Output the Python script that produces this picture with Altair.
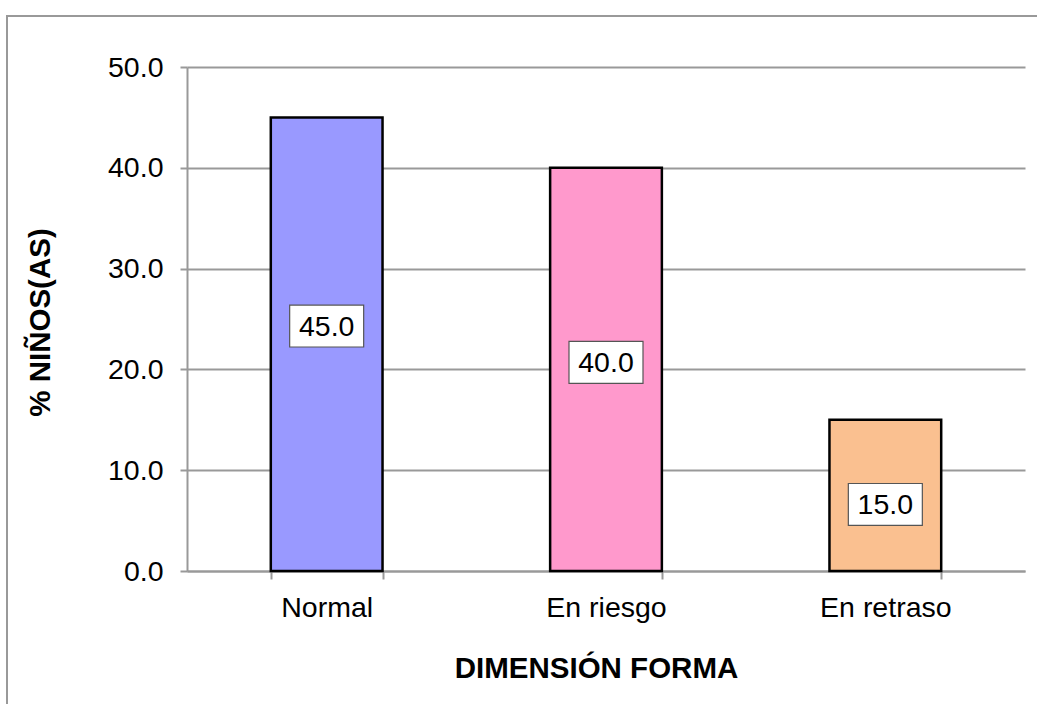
import altair as alt
import pandas as pd

# Categories, percentages and bar colours
categories = ["Normal", "En riesgo", "En retraso"]
percentages = [45.0, 40.0, 15.0]
bar_colors = ["#9999FF", "#FF99CC", "#FAC090"]
# vertical centre of each value box, in axis units
label_centers = [24.3, 20.7, 6.6]

df = pd.DataFrame({
    "cat": categories,
    "pct": percentages,
    "lab": label_centers,
})

FONT = "Liberation Sans"
FS = 28.5
TS = 29.5
W, H = 838, 504

x_enc = alt.X(
    "cat:N",
    sort=categories,
    scale=alt.Scale(paddingInner=0.6, paddingOuter=0.3),
    axis=alt.Axis(
        title="DIMENSIÓN FORMA",
        titleFont=FONT, titleFontSize=TS, titleFontWeight="bold", titleColor="black",
        titlePadding=33, titleX=409, titleAlign="center",
        labelFont=FONT, labelFontSize=FS, labelColor="black", labelPadding=14,
        labelAngle=0,
        domainColor="#999999", domainWidth=2,
        tickColor="#999999", tickWidth=2, tickSize=8, tickBand="extent",
        grid=False,
    ),
)

y_scale = alt.Scale(domain=[0, 50], nice=False)

bars = alt.Chart(df).mark_bar(stroke="black", strokeWidth=2.5).encode(
    x=x_enc,
    y=alt.Y(
        "pct:Q",
        scale=y_scale,
        axis=alt.Axis(
            title="% NIÑOS(AS)",
            titleFont=FONT, titleFontSize=TS, titleFontWeight="bold", titleColor="black",
            titleAngle=-90, titleX=-147, titleY=H / 2 + 3, titleAlign="center",
            titleBaseline="middle",
            labelFont=FONT, labelFontSize=FS, labelColor="black", labelPadding=17,
            format=".1f", values=[0, 10, 20, 30, 40, 50],
            domainColor="#999999", domainWidth=2,
            tickColor="#999999", tickWidth=2, tickSize=7,
            gridColor="#999999", gridWidth=2,
        ),
    ),
    color=alt.Color("cat:N", scale=alt.Scale(domain=categories, range=bar_colors), legend=None),
)

# white boxes behind the value labels
boxes = alt.Chart(df).transform_calculate(
    b0="datum.lab - 2.08", b1="datum.lab + 2.08"
).mark_bar(width=74, fill="white", stroke="#555555", strokeWidth=1.2).encode(
    x=alt.X("cat:N", sort=categories),
    y=alt.Y("b0:Q", scale=y_scale),
    y2="b1:Q",
)

labels = alt.Chart(df).mark_text(
    font=FONT, fontSize=FS, color="black", baseline="middle", align="center", dy=1
).encode(
    x=alt.X("cat:N", sort=categories),
    y=alt.Y("lab:Q", scale=y_scale),
    text=alt.Text("pct:Q", format=".1f"),
)

# outer chart frame (runs off the right and bottom edges)
frame = alt.Chart(df).mark_rect(
    fill=None, stroke="#999999", strokeWidth=2, clip=False
).encode(
    x=alt.value(-180), x2=alt.value(W + 40),
    y=alt.value(-51), y2=alt.value(H + 150),
)

chart = alt.layer(bars, boxes, labels, frame).properties(
    width=W, height=H,
    padding={"left": 187, "top": 67, "right": 12, "bottom": 133},
    autosize=alt.AutoSizeParams(type="none"),
    background="white",
).configure_view(stroke=None)

chart.save("out.html", embed_options={"renderer": "svg", "actions": False})
